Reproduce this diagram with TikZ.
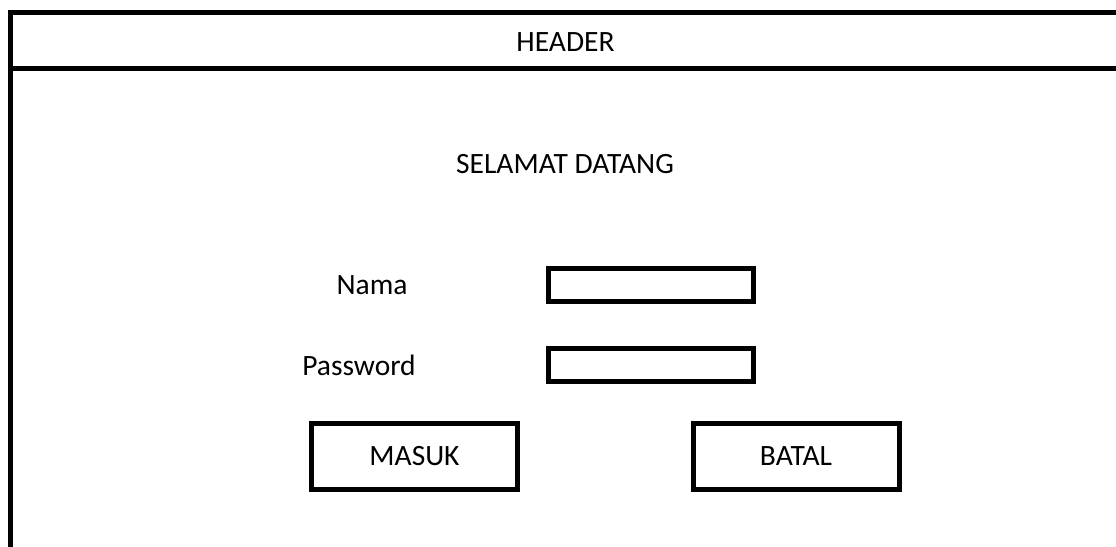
\documentclass[tikz,border=0pt]{standalone}
\usepackage{fontspec}
\setmainfont{Carlito}
\begin{document}
\begin{tikzpicture}[x=1pt,y=-1pt,
  frameline/.style={line width=5pt,draw=black},
  field/.style={draw=black,line width=5pt,minimum width=205pt,minimum height=33pt,inner sep=0pt},
  btn/.style={draw=black,line width=5pt,minimum width=206pt,minimum height=66pt,inner sep=0pt,font=\fontsize{29.5}{34}\selectfont},
  lbl/.style={inner sep=0pt,font=\fontsize{29.5}{34}\selectfont}]
\useasboundingbox (0,0) rectangle (1116,546);
\clip (0,0) rectangle (1116,546);
\draw[frameline] (10,12.5) rectangle (1140,580);
\draw[frameline] (10,68) -- (1140,68);
\node[lbl] (header) at (565.5,42.5) {HEADER};
\node[lbl] (welcome) at (565,164) {SELAMAT DATANG};
\node[lbl] (nama) at (372,285) {Nama};
\node[lbl] (pass) at (359,365) {Password};
\node[field] (namabox) at (651,285) {};
\node[field] (passbox) at (651,364.5) {};
\node[btn] (masuk) at (414.5,456) {MASUK};
\node[btn] (batal) at (796,456) {BATAL};
\end{tikzpicture}
\end{document}
